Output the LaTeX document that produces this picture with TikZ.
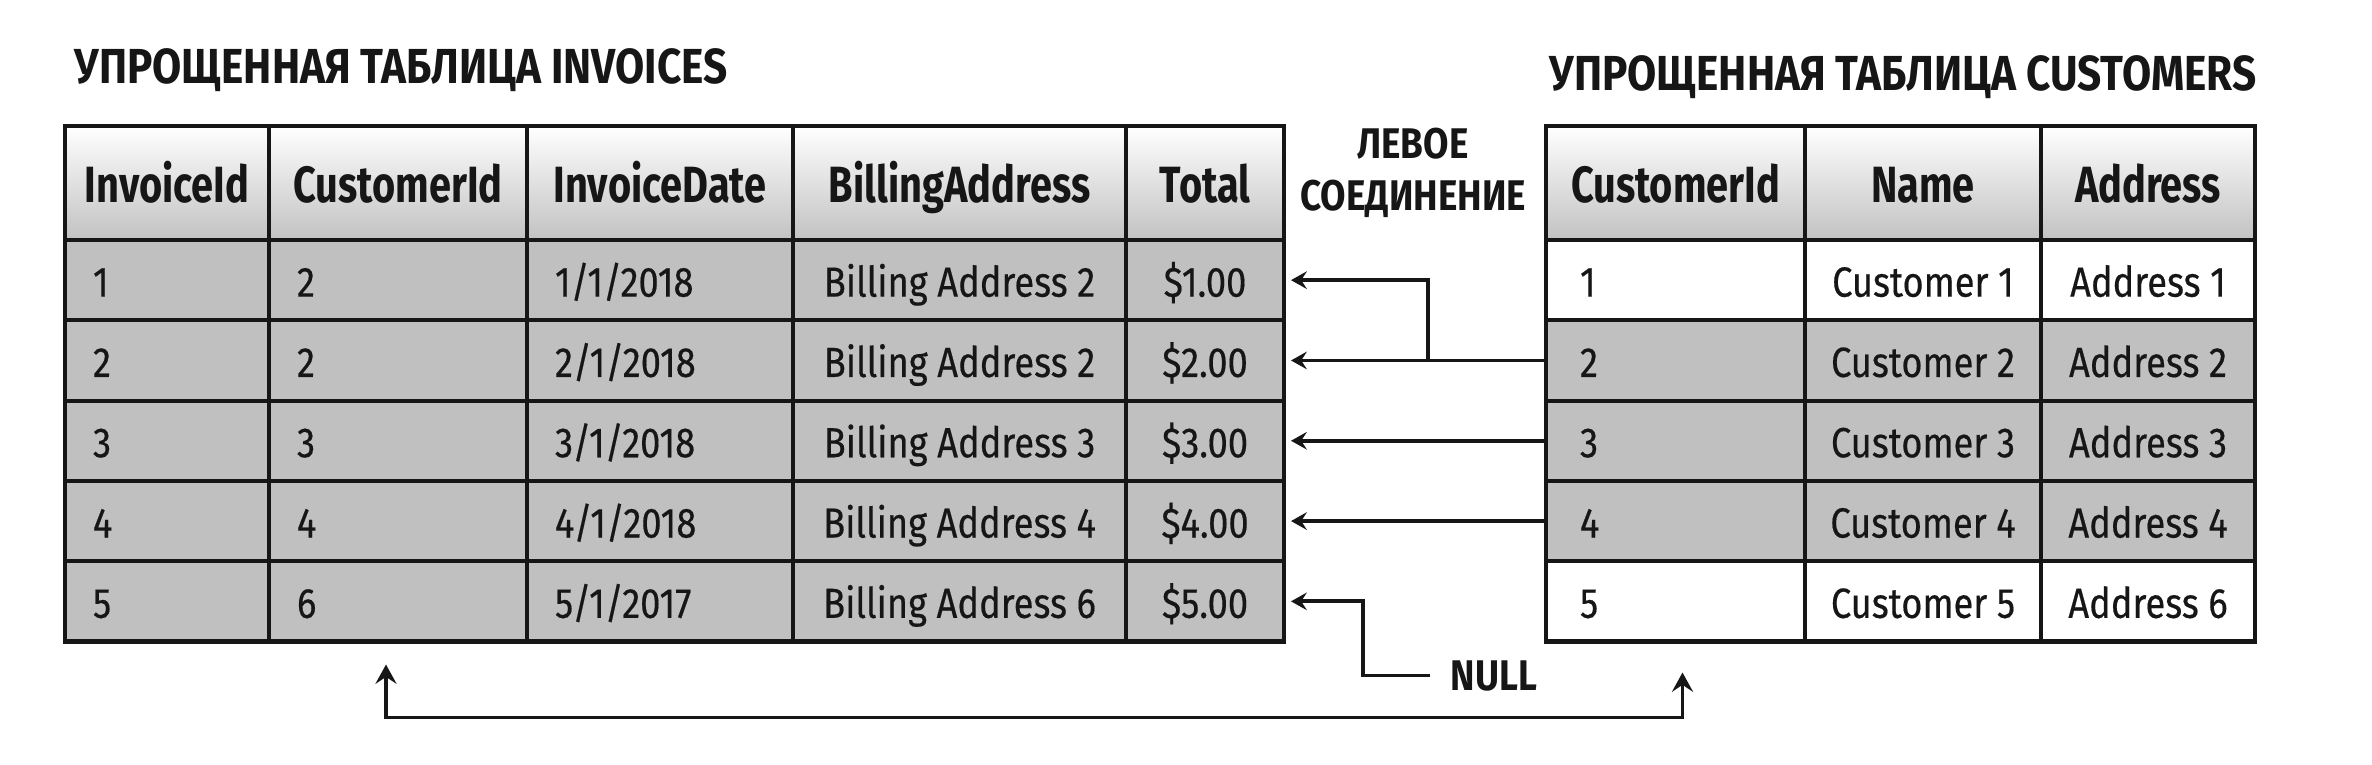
\documentclass[tikz,border=0pt]{standalone}
\usepackage{fontspec}
\setmainfont{Fira Sans}[FakeStretch=0.86]
\newfontfamily\headfont{Fira Sans}[FakeStretch=0.78]
\newfontfamily\datafont{Fira Sans}[FakeStretch=0.86, FakeBold=0.4]
\usetikzlibrary{calc,arrows.meta,positioning}
\definecolor{ink}{HTML}{161616}
\definecolor{cellgray}{HTML}{C0C0C0}
\tikzset{
    cell/.style={draw=ink, line width=1.2pt, anchor=north west, outer sep=0pt,
        inner xsep=0.28cm, inner ysep=0pt, minimum height=0.803cm,
        text height=0.40cm, text depth=0.07cm, text=ink,
        font=\datafont\fontsize{12}{14}\selectfont},
    midcell/.style={cell, inner xsep=0.06cm},
    headcell/.style={midcell, minimum height=1.14cm, text height=0.45cm,
        font=\headfont\fontsize{14.5}{17}\selectfont\bfseries,
        top color=white, middle color=black!3, bottom color=black!24},
    title/.style={inner sep=0pt, anchor=base west, text=ink,
        font=\fontsize{14}{17}\selectfont\bfseries},
    lbl/.style={inner sep=0pt, text=ink, font=\fontsize{12.2}{14.8}\selectfont\bfseries},
    link/.style={draw=ink, line width=1.1pt,
        -{Stealth[length=4.5pt,width=5pt,inset=1.6pt]}}
}

\begin{document}
\begin{tikzpicture}
    \useasboundingbox (0,0) rectangle (23.72,-7.64);
    \node[title] (invtitle) at (0.74,-0.83) {УПРОЩЕННАЯ ТАБЛИЦА INVOICES};
    \node[title] (custitle) at (15.49,-0.90) {УПРОЩЕННАЯ ТАБЛИЦА CUSTOMERS};

    \foreach \c/\x/\w/\t in {1/0.65/2.04/InvoiceId,2/2.69/2.58/CustomerId,
        3/5.27/2.66/InvoiceDate,4/7.93/3.33/BillingAddress,5/11.26/1.58/Total}
        \node[headcell, minimum width=\w cm] (inv-0-\c) at (\x,-1.26) {\t};
    \foreach \r/\a/\b/\d/\e/\f [evaluate=\r as \p using int(\r-1)] in
        {1/1/2/{1/1/2018}/Billing Address 2/\$1.00,
         2/2/2/{2/1/2018}/Billing Address 2/\$2.00,
         3/3/3/{3/1/2018}/Billing Address 3/\$3.00,
         4/4/4/{4/1/2018}/Billing Address 4/\$4.00,
         5/5/6/{5/1/2017}/Billing Address 6/\$5.00}{
        \node[cell, fill=cellgray, text width=1.48cm] (inv-\r-1) at (inv-\p-1.south west) {\a};
        \node[cell, fill=cellgray, text width=2.02cm] (inv-\r-2) at (inv-\r-1.north east) {\b};
        \node[cell, fill=cellgray, text width=2.10cm] (inv-\r-3) at (inv-\r-2.north east) {\d};
        \node[midcell, fill=cellgray, minimum width=3.33cm] (inv-\r-4) at (inv-\r-3.north east) {\e};
        \node[midcell, fill=cellgray, minimum width=1.58cm] (inv-\r-5) at (inv-\r-4.north east) {\f};
    }

    \foreach \c/\x/\w/\t in {1/15.46/2.59/CustomerId,2/18.05/2.36/Name,3/20.41/2.14/Address}
        \node[headcell, minimum width=\w cm] (cus-0-\c) at (\x,-1.26) {\t};
    \foreach \r/\a/\b/\d/\col [evaluate=\r as \p using int(\r-1)] in
        {1/1/Customer 1/Address 1/white,
         2/2/Customer 2/Address 2/cellgray,
         3/3/Customer 3/Address 3/cellgray,
         4/4/Customer 4/Address 4/cellgray,
         5/5/Customer 5/Address 6/white}{
        \node[cell, fill=\col, inner xsep=0.34cm, text width=1.91cm] (cus-\r-1) at (cus-\p-1.south west) {\a};
        \node[midcell, fill=\col, minimum width=2.36cm] (cus-\r-2) at (cus-\r-1.north east) {\b};
        \node[midcell, fill=\col, minimum width=2.14cm] (cus-\r-3) at (cus-\r-2.north east) {\d};
    }

    \node[lbl, align=center, anchor=north] (join) at (14.13,-1.27) {ЛЕВОЕ\\СОЕДИНЕНИЕ};
    \node[lbl, anchor=base west] (nul) at (14.50,-6.90) {NULL};

    \coordinate (fork) at ($(inv-2-5.east)!0.55!(cus-2-1.west)$);
    \foreach \r in {2,3,4}
        \draw[link, shorten >=0.07cm] (cus-\r-1.west) -- (inv-\r-5.east);
    \draw[link, shorten >=0.07cm] (fork) |- (inv-1-5.east);
    \draw[link, shorten >=0.07cm, shorten <=0.2cm] (nul.west) -- ++(-0.87,0) |- (inv-5-5.east);
    \draw[link, {Stealth[length=5.5pt,width=6pt,inset=2pt]}-{Stealth[length=5.5pt,width=6pt,inset=2pt]}]
        ([xshift=-0.12cm,yshift=-0.23cm]inv-5-2.south) -- ++(0,-0.53)
        -| ([xshift=0.07cm,yshift=-0.31cm]cus-5-1.south);
\end{tikzpicture}
\end{document}
